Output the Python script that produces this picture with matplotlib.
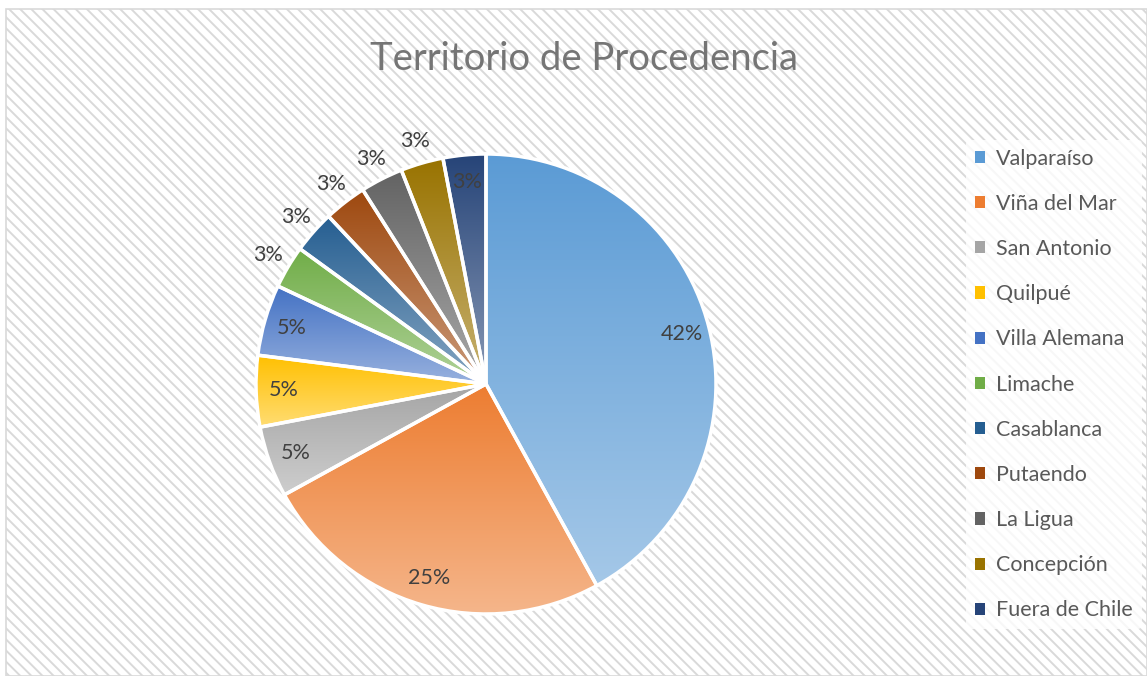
import numpy as np
import matplotlib
matplotlib.use('Agg')
import matplotlib.pyplot as plt
from matplotlib.patches import Rectangle, Patch
from matplotlib.colors import to_rgb

labels = ['Valparaíso', 'Viña del Mar', 'San Antonio', 'Quilpué', 'Villa Alemana',
          'Limache', 'Casablanca', 'Putaendo', 'La Ligua', 'Concepción', 'Fuera de Chile']
values = [42, 25, 5, 5, 5, 3, 3, 3, 3, 3, 3]
colors = ['#5B9BD5', '#ED7D31', '#A5A5A5', '#FFC000', '#4472C4', '#70AD47',
          '#255E91', '#9E480E', '#636363', '#997300', '#264478']

plt.rcParams['font.family'] = ['Lato', 'DejaVu Sans']
plt.rcParams['hatch.color'] = '#e8e8e8'
plt.rcParams['hatch.linewidth'] = 1.4

fig = plt.figure(figsize=(11.47, 6.76), dpi=100)
W, H = 1147, 676

# hatched background with thin border
bg = Rectangle((6 / W, 0), 1 - 6 / W, 1 - 9 / H, transform=fig.transFigure,
               facecolor='white', edgecolor='#d9d9d9', hatch='\\\\\\', lw=1.2, zorder=-10)
fig.patches.append(bg)

fig.text(584 / W, 1 - 59 / H, 'Territorio de Procedencia', ha='center', va='center',
         fontsize=27.5, color='#757575')

cx, cy, R = 486, 384, 230
ax = fig.add_axes([(cx - R) / W, (H - cy - R) / H, 2 * R / W, 2 * R / H])
ax.axis('off')

wedges, texts, autotexts = ax.pie(values, colors=colors, startangle=90, counterclock=False,
                                  autopct='%.0f%%', pctdistance=0.88,
                                  wedgeprops=dict(edgecolor='white', linewidth=2.5),
                                  textprops=dict(fontsize=15.5, color='#404040'))

# vertical gradient on each wedge: base colour at top, lighter at bottom
for w, c in zip(wedges, colors):
    base = np.array(to_rgb(c))
    light = base + 0.45 * (1 - base)
    t = np.linspace(0, 1, 256)[:, None]
    grad = (base[None, :] * (1 - t) + light[None, :] * t)[:, None, :]
    verts = w.get_path().vertices
    x0, y0 = verts.min(axis=0)
    x1, y1 = verts.max(axis=0)
    im = ax.imshow(grad, extent=[x0, x1, y0, y1], aspect='auto', zorder=1, origin='upper')
    im.set_clip_path(w)
    w.set_facecolor('none')
    w.set_zorder(2)

# small slices get their labels outside, except the last one
for i, (w, t) in enumerate(zip(wedges, autotexts)):
    t.set_zorder(5)
    if values[i] <= 3 and i < len(values) - 1:
        ang = np.deg2rad((w.theta1 + w.theta2) / 2)
        t.set_position((1.1 * np.cos(ang), 1.1 * np.sin(ang)))

ax.set_xlim(-1, 1)
ax.set_ylim(-1, 1)
ax.set_aspect('equal')

handles = [Patch(facecolor=c) for c in colors]
leg = fig.legend(handles, labels, loc='upper left', bbox_to_anchor=(966 / W, 1 - 140 / H),
                 frameon=True, fontsize=15.5, labelspacing=1.17, handlelength=0.5,
                 handleheight=0.5, handletextpad=0.5, borderaxespad=0)
leg.get_frame().set_facecolor('white')
leg.get_frame().set_alpha(0.8)
leg.get_frame().set_linewidth(0)
for txt in leg.get_texts():
    txt.set_color('#595959')

fig.savefig('out.png', dpi=100)
